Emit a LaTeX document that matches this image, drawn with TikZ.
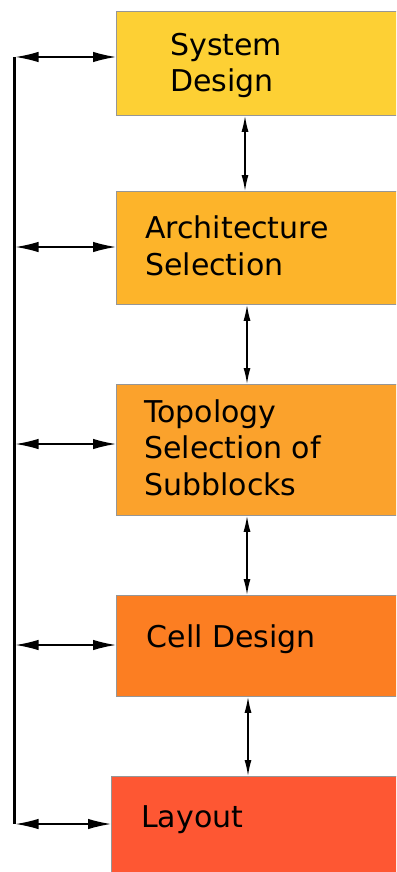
\documentclass[tikz,border=0pt]{standalone}
\usepackage{fontspec}
\setmainfont{DejaVu Sans}
\usetikzlibrary{arrows.meta}
\definecolor{stageA}{RGB}{253,208,52}
\definecolor{stageB}{RGB}{253,180,42}
\definecolor{stageC}{RGB}{251,162,44}
\definecolor{stageD}{RGB}{252,126,34}
\definecolor{stageE}{RGB}{254,87,51}
\definecolor{edge}{RGB}{150,150,150}
\begin{document}
\begin{tikzpicture}[x=1pt,y=-1pt,
  stagebox/.style={draw=edge, line width=0.8pt, rectangle, inner sep=0pt,
    anchor=north west, minimum width=300pt},
  stagetext/.style={font=\fontsize{30}{36.5}\selectfont, inner sep=0pt,
    anchor=base west, align=left},
  sidelink/.style={line width=1.4pt, {Latex[length=23pt,width=10.5pt]}-{Latex[length=23pt,width=10.5pt]}},
  steplink/.style={line width=1.4pt, {Latex[length=16pt,width=7pt]}-{Latex[length=16pt,width=7pt]}},
  busline/.style={line width=3pt}]
\useasboundingbox (0,0) rectangle (396,872);
\clip (0,0) rectangle (396,872);

% stage boxes
\node[stagebox, fill=stageA, minimum height=104pt] (sys)  at (116,11)  {};
\node[stagebox, fill=stageB, minimum height=113pt] (arch) at (116,191) {};
\node[stagebox, fill=stageC, minimum height=131pt] (topo) at (116,384) {};
\node[stagebox, fill=stageD, minimum height=101pt] (cell) at (116,595) {};
\node[stagebox, fill=stageE, minimum height=110pt] (lay)  at (111,776) {};

% stage labels (multi-line labels sit on the baseline of their last line)
\node[stagetext] (tsys)  at (170,92)  {System\\Design};
\node[stagetext] (tarch) at (145,275) {Architecture\\Selection};
\node[stagetext] (ttopo) at (144,495) {Topology\\Selection of\\Subblocks};
\node[stagetext] (tcell) at (146.5,647) {Cell Design};
\node[stagetext] (tlay)  at (141,827) {Layout};

% feedback bus on the left
\coordinate (b1) at (15.5,57);
\coordinate (b2) at (15.5,247);
\coordinate (b3) at (15.5,444);
\coordinate (b4) at (15.5,645);
\coordinate (b5) at (15.5,824);
\draw[busline] (14,57) -- (14,824);
\draw[sidelink] (b1) -- (b1 -| sys.west);
\draw[sidelink] (b2) -- (b2 -| arch.west);
\draw[sidelink] (b3) -- (b3 -| topo.west);
\draw[sidelink] (b4) -- (b4 -| cell.west);
\draw[sidelink] (b5) -- (b5 -| lay.west);

% links between consecutive stages
\coordinate (v1) at (245,0);
\coordinate (v2) at (247,0);
\coordinate (v3) at (247,0);
\coordinate (v4) at (248,0);
\draw[steplink] (v1 |- sys.south)  -- (v1 |- arch.north);
\draw[steplink] (v2 |- arch.south) -- (v2 |- topo.north);
\draw[steplink] (v3 |- topo.south) -- (v3 |- cell.north);
\draw[steplink] (v4 |- cell.south) -- (v4 |- lay.north);
\end{tikzpicture}
\end{document}
